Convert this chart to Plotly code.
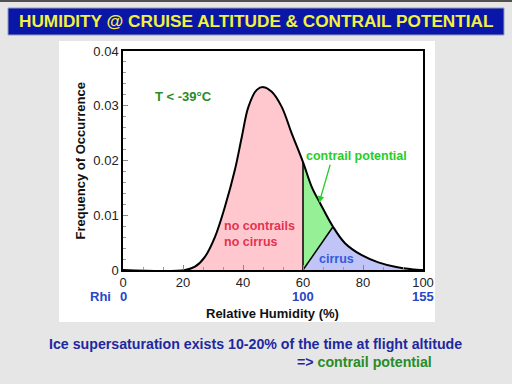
import plotly.graph_objects as go

# ---- data ----
rh = [20.7, 24.0, 27.3, 30.7, 34.0, 37.3, 39.6, 41.8, 44.6, 46.8, 49.5, 52.9, 56.2,
      60.0, 62.9, 65.7, 70.0, 74.0, 79.6, 85.1, 90.7, 96.8, 99.0]
freq = [0.0, 0.0006, 0.0024, 0.0061, 0.0116, 0.0183, 0.0243, 0.0298, 0.0329, 0.0334,
        0.0326, 0.0298, 0.0250, 0.0197, 0.0152, 0.0122, 0.0079, 0.0049, 0.0027,
        0.0014, 0.0006, 0.0001, 0.0]
rh_ice_threshold = 60.0     # RHi = 100 %
cirrus_start = 70.0         # where the cirrus boundary meets the curve
x_ticks = [0, 20, 40, 60, 80, 100]
y_ticks = [0, 0.01, 0.02, 0.03, 0.04]
y_tick_text = ["0", "0.01", "0.02", "0.03", "0.04"]
rhi_pos = [0, 60, 100]
rhi_labels = ["0", "100", "155"]

FONT = "Liberation Sans, Arial, Helvetica, sans-serif"
L, R, T, B = 123, 89, 51, 114
W, H = 512, 384
PW, PH = W - L - R, H - T - B

def px(x):
    return (x - L) / PW

def py(y):
    return (H - B - y) / PH

i60 = rh.index(rh_ice_threshold)
i70 = rh.index(cirrus_start)

fig = go.Figure()

# no contrails / no cirrus region
fig.add_trace(go.Scatter(x=rh[:i60 + 1], y=freq[:i60 + 1], mode="lines",
                         line=dict(width=0, shape="spline"), fill="tozeroy",
                         fillcolor="rgb(255,200,206)", hoverinfo="skip"))
# contrail potential region
gx = [rh_ice_threshold] + rh[i60:i70 + 1] + [rh_ice_threshold]
gy = [0] + freq[i60:i70 + 1] + [0]
fig.add_trace(go.Scatter(x=gx, y=gy, mode="lines", line=dict(width=0),
                         fill="toself", fillcolor="rgb(150,240,150)", hoverinfo="skip"))
# cirrus region
bx = [rh_ice_threshold] + rh[i70:] + [rh_ice_threshold]
by = [0] + freq[i70:] + [0]
fig.add_trace(go.Scatter(x=bx, y=by, mode="lines", line=dict(width=0),
                         fill="toself", fillcolor="rgb(192,196,246)", hoverinfo="skip"))
# boundaries
fig.add_trace(go.Scatter(x=[rh_ice_threshold, rh_ice_threshold], y=[0, freq[i60]],
                         mode="lines", line=dict(color="black", width=1.5), hoverinfo="skip"))
fig.add_trace(go.Scatter(x=[rh_ice_threshold, rh[i70]], y=[0, freq[i70]],
                         mode="lines", line=dict(color="black", width=1.5), hoverinfo="skip"))
# the curve
fig.add_trace(go.Scatter(x=[0] + rh + [100], y=[0] + freq + [0], mode="lines",
                         line=dict(color="black", width=2, shape="spline"), hoverinfo="skip"))

shapes = [
    # white panel
    dict(type="rect", xref="paper", yref="paper", x0=px(59), x1=px(435), y0=py(322), y1=py(41),
         fillcolor="white", line=dict(width=0), layer="below"),
    # title bar
    dict(type="rect", xref="paper", yref="paper", x0=px(8), x1=px(504), y0=py(35), y1=py(8),
         fillcolor="rgb(10,22,168)", line=dict(color="rgb(150,155,190)", width=1), layer="below"),
    # top dark border
    dict(type="rect", xref="paper", yref="paper", x0=px(0), x1=px(512), y0=py(2), y1=py(0),
         fillcolor="rgb(80,80,80)", line=dict(width=0), layer="below"),
]

ann = []
def A(text, x, y, size, color, xanchor="center", yanchor="middle", bold=True, ref="paper", align="center"):
    ann.append(dict(text=("<b>%s</b>" % text) if bold else text, x=x, y=y, xref=ref, yref=ref,
                    showarrow=False, xanchor=xanchor, yanchor=yanchor, align=align,
                    font=dict(family=FONT, size=size, color=color)))

A("HUMIDITY @ CRUISE ALTITUDE &amp; CONTRAIL POTENTIAL", px(256), py(21), 17.2, "rgb(242,242,60)")
A("Frequency of Occurrence", px(80), py(160.5), 13, "#111")
ann[-1]["textangle"] = -90
A("Relative Humidity (%)", px(272), py(313), 13, "#111")
A("Rhi", px(100), py(296.5), 13, "rgb(40,70,200)")
for pos, lab in zip(rhi_pos, rhi_labels):
    A(lab, px(L + pos * 3), py(296.5), 13, "rgb(40,70,200)")

# in-plot labels (data coordinates)
def AD(text, x, y, size, color, xanchor="center", align="center"):
    A(text, x, y, size, color, xanchor=xanchor, align=align)
    ann[-1].update(xref="x", yref="y")

AD("T &lt; -39°C", 20.2, 0.0316, 13, "rgb(40,140,40)")
AD("contrail potential", 60.3, 0.0209, 12.5, "rgb(40,205,40)", xanchor="left")
AD("no contrails<br>no cirrus", 32.9, 0.0065, 12.5, "rgb(230,50,80)", xanchor="left", align="left")
AD("cirrus", 71.2, 0.00195, 12.5, "rgb(50,90,220)")
# arrow
ann.append(dict(x=65.4, y=0.0123, ax=69.2, ay=0.0195, xref="x", yref="y", axref="x", ayref="y",
                text="", showarrow=True, arrowhead=2, arrowsize=1, arrowwidth=1.3,
                arrowcolor="rgb(40,205,40)"))

A("Ice supersaturation exists 10-20% of the time at flight altitude", px(255), py(344), 14.2,
  "rgb(30,40,160)")
A("=&gt; <span style='color:rgb(40,140,40)'>contrail potential</span>", px(434), py(362), 14.2,
  "rgb(30,40,160)", xanchor="right")

fig.update_layout(
    width=W, height=H, margin=dict(l=L, r=R, t=T, b=B),
    paper_bgcolor="rgb(230,230,230)", plot_bgcolor="white",
    showlegend=False, shapes=shapes, annotations=ann,
    xaxis=dict(range=[0, 100], tickvals=x_ticks, ticks="inside", ticklen=5, tickwidth=1,
               tickcolor="#888", showgrid=False, zeroline=False, showline=True, mirror=True,
               linecolor="black", linewidth=1.5, tickfont=dict(family=FONT, size=13, color="#222"),
               minor=dict(tick0=0, dtick=20 / 3, ticks="inside", ticklen=3, tickcolor="#999")),
    yaxis=dict(range=[0, 0.04], tickvals=y_ticks, ticktext=y_tick_text, ticks="inside", ticklen=5,
               tickwidth=1, tickcolor="#888", showgrid=False, zeroline=False, showline=True,
               mirror=True, linecolor="black", linewidth=1.5,
               tickfont=dict(family=FONT, size=13, color="#222"),
               minor=dict(dtick=0.002, ticks="inside", ticklen=3, tickcolor="#999")),
)
fig.write_html("out.html", config={"displayModeBar": False},
               post_script="document.body.style.margin='0';document.body.style.overflow='hidden';"
                           "document.body.style.background='rgb(230,230,230)';")
